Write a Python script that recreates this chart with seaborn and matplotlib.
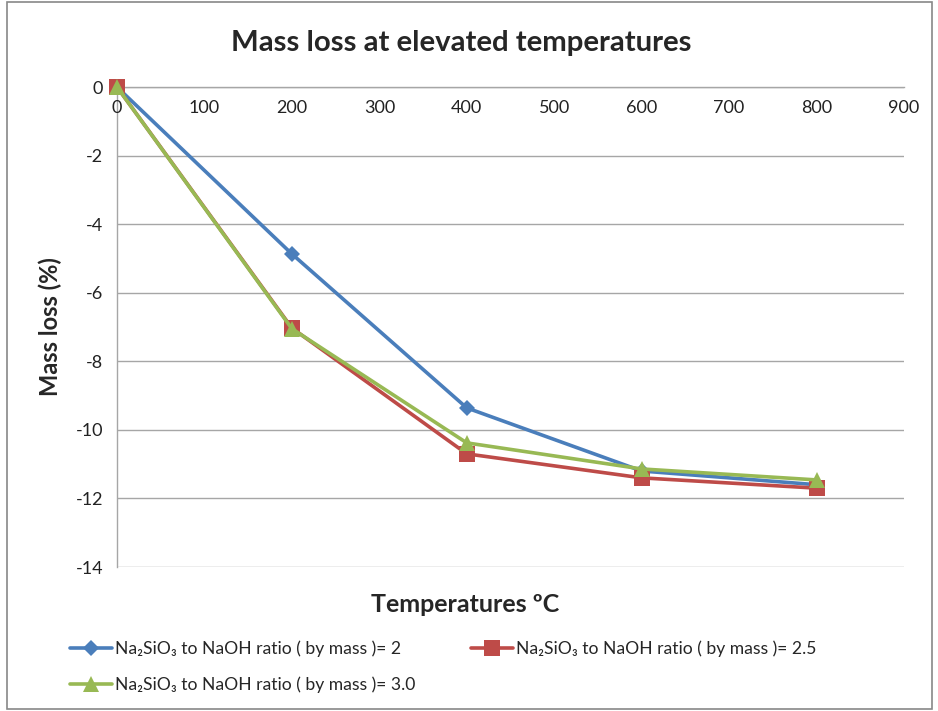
import matplotlib
matplotlib.use("Agg")
import matplotlib.pyplot as plt
import seaborn as sns
import pandas as pd
from matplotlib.patches import Rectangle

temps = [0, 200, 400, 600, 800]
ratio_2 = [0, -4.87, -9.36, -11.2, -11.6]
ratio_25 = [0, -7.03, -10.7, -11.4, -11.7]
ratio_30 = [0, -7.05, -10.38, -11.14, -11.46]
labels = ["Na₂SiO₃ to NaOH ratio ( by mass )= 2",
          "Na₂SiO₃ to NaOH ratio ( by mass )= 2.5",
          "Na₂SiO₃ to NaOH ratio ( by mass )= 3.0"]
x_ticks = [0, 100, 200, 300, 400, 500, 600, 700, 800, 900]
y_ticks = [0, -2, -4, -6, -8, -10, -12, -14]

rows = []
for lab, vals in zip(labels, [ratio_2, ratio_25, ratio_30]):
    for t, v in zip(temps, vals):
        rows.append({"Temperature": t, "Mass loss": v, "Series": lab})
df = pd.DataFrame(rows)

sns.set_theme(style="white")
plt.rcParams['font.family'] = ['Lato', 'DejaVu Sans']

fig = plt.figure(figsize=(9.38, 7.11), dpi=100)
ax = fig.add_axes([117/938, 1-567/711, (904-117)/938, (567-87)/711])

colors = {labels[0]: "#4A7EBB", labels[1]: "#BE4B48", labels[2]: "#98B954"}
markers = {labels[0]: "D", labels[1]: "s", labels[2]: "^"}
sizes = {labels[0]: 8, labels[1]: 11, labels[2]: 12}
for lab in labels:
    sub = df[df["Series"] == lab]
    sns.lineplot(data=sub, x="Temperature", y="Mass loss", ax=ax, color=colors[lab],
                 marker=markers[lab], markersize=sizes[lab], markeredgewidth=0,
                 linewidth=2.6, label=lab, zorder=3, clip_on=False)

ax.set_xlim(0, 900)
ax.set_ylim(-14, 0)
ax.set_xticks(x_ticks)
ax.set_yticks(y_ticks)
ax.set_yticklabels([str(v) for v in y_ticks], fontsize=13)
ax.tick_params(axis='x', length=0, labeltop=False, labelbottom=False)
ax.tick_params(axis='y', length=0, pad=10)
for v in x_ticks:
    ax.text(v, -0.38, str(v), ha='center', va='top', fontsize=13, color='#222222')
ax.yaxis.grid(True, color="#A6A6A6", linewidth=1)
ax.xaxis.grid(False)
for s in ['right', 'bottom']:
    ax.spines[s].set_visible(False)
ax.spines['left'].set_color("#A6A6A6")
ax.spines['top'].set_color("#A6A6A6")
ax.spines['left'].set_linewidth(1)
ax.spines['top'].set_linewidth(1)
for t in ax.get_yticklabels():
    t.set_color('#222222')

ax.set_xlabel("")
ax.set_ylabel("")
fig.text(465/938, 1-605/711, "Temperatures ºC", ha='center', va='center',
         fontsize=18, fontweight='bold')
fig.text(50/938, 1-327/711, "Mass loss (%)", ha='center', va='center',
         rotation=90, fontsize=17, fontweight='bold')
fig.text(461/938, 1-43/711, "Mass loss at elevated temperatures", ha='center',
         va='center', fontsize=21.2, fontweight='bold')

ax.get_legend().remove()
handles, labs = ax.get_legend_handles_labels()
order = [0, 2, 1]
leg = fig.legend([handles[i] for i in order], [labs[i] for i in order],
                 loc='upper left', bbox_to_anchor=(54/938, 1-625/711), ncol=2,
                 frameon=False, fontsize=12.6, handlelength=2.4, handletextpad=0.2,
                 columnspacing=3.15, labelspacing=1.1)

fig.patches.append(Rectangle((7/938, 2/711), 925/938, 707/711, transform=fig.transFigure,
                             fill=False, edgecolor="#888888", linewidth=1.2))

fig.savefig("out.png", dpi=100)
